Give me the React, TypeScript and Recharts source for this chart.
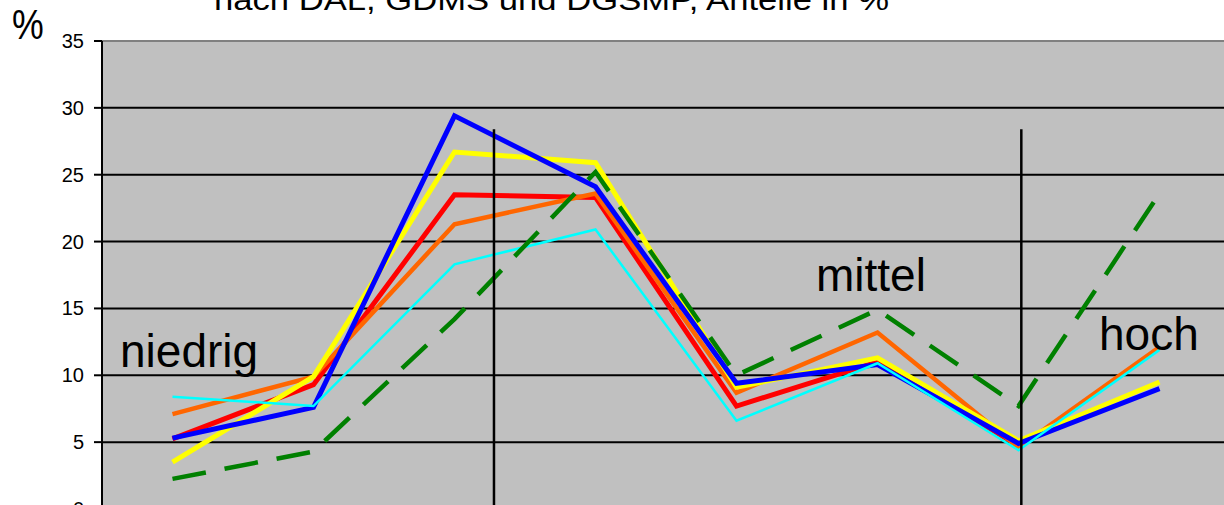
import React from "react";
import { LineChart, Line, XAxis, YAxis, CartesianGrid, ReferenceLine } from "recharts";

// category positions (1..8), grouped as niedrig / mittel / hoch
const positions = [1, 2, 3, 4, 5, 6, 7, 8];

const blueValues = [5.3, 7.6, 29.4, 24.1, 9.4, 10.8, 4.9, 9.0];
const yellowValues = [3.5, 9.9, 26.7, 25.9, 9.1, 11.3, 5.1, 9.5];
const redValues = [5.25, 9.3, 23.5, 23.3, 7.7, 11.0, 4.75, null];
const orangeValues = [7.1, 9.9, 21.3, 23.6, 8.7, 13.2, 4.6, 12.1];
const cyanValues = [8.4, 7.7, 18.3, 20.9, 6.6, 10.9, 4.4, 11.9];
const greenValues = [2.25, 4.3, 14.2, 25.2, 10.0, 14.9, 7.7, 23.6];

const yTicks = [0, 5, 10, 15, 20, 25, 30, 35];

// vertical divider lines (position on the category scale, top value)
const dividerX = [3.28, 7.02];
const dividerTop = 28.4;

const data = positions.map((x, i) => ({
  x,
  blue: blueValues[i],
  yellow: yellowValues[i],
  red: redValues[i],
  orange: orangeValues[i],
  cyan: cyanValues[i],
  green: greenValues[i],
}));

const FONT = "'Liberation Sans', Arial, sans-serif";

function YTick(props: any) {
  const { x, y, payload } = props;
  return (
    <text
      x={x}
      y={y}
      dy={7}
      textAnchor="end"
      fontFamily={FONT}
      fontSize={20}
      fill="#000"
    >
      {payload.value}
    </text>
  );
}

export default function App() {
  return (
    <div
      style={{
        position: "absolute",
        left: 0,
        top: 0,
        width: 1224,
        height: 505,
        overflow: "hidden",
        background: "#fff",
      }}
    >
      <LineChart
        width={1240}
        height={516}
        data={data}
        margin={{ top: 41, right: 10, left: 0, bottom: 7 }}
      >
        <CartesianGrid
          vertical={false}
          stroke="#000"
          strokeWidth={2}
          fill="#C0C0C0"
          fillOpacity={1}
        />
        <XAxis type="number" dataKey="x" domain={[0.5, 8.5]} hide />
        <YAxis
          width={102}
          domain={[0, 35]}
          ticks={yTicks}
          interval={0}
          tick={<YTick />}
          tickSize={8}
          tickMargin={10}
          axisLine={{ stroke: "#000", strokeWidth: 2 }}
          tickLine={{ stroke: "#000", strokeWidth: 2 }}
        />
        <ReferenceLine y={35} stroke="#808080" strokeWidth={2} />
        <Line dataKey="red" stroke="#FF0000" strokeWidth={5} dot={false} isAnimationActive={false} />
        <Line dataKey="orange" stroke="#FF6600" strokeWidth={4.5} dot={false} isAnimationActive={false} />
        <Line dataKey="yellow" stroke="#FFFF00" strokeWidth={5} dot={false} isAnimationActive={false} />
        <Line dataKey="blue" stroke="#0000FF" strokeWidth={5} dot={false} isAnimationActive={false} />
        <Line dataKey="cyan" stroke="#00FFFF" strokeWidth={2.5} dot={false} isAnimationActive={false} />
        <Line
          dataKey="green"
          stroke="#008000"
          strokeWidth={4.5}
          strokeDasharray="34 19"
          dot={false}
          isAnimationActive={false}
        />
        {dividerX.map((dx) => (
          <ReferenceLine
            key={dx}
            segment={[
              { x: dx, y: 0 },
              { x: dx, y: dividerTop },
            ]}
            stroke="#000"
            strokeWidth={2.5}
          />
        ))}
      </LineChart>
      <svg
        width={1224}
        height={505}
        style={{ position: "absolute", left: 0, top: 0, pointerEvents: "none" }}
      >
        <text
          x={214}
          y={10}
          fontFamily={FONT}
          fontSize={30}
          textLength={675}
          lengthAdjust="spacingAndGlyphs"
          fill="#000"
        >
          nach DAL, GDMS und DGSMP, Anteile in %
        </text>
        <text
          transform="translate(12,39) scale(0.85,1)"
          fontFamily={FONT}
          fontSize={42}
          fill="#000"
        >
          %
        </text>
        <text x={120} y={367} fontFamily={FONT} fontSize={46} fill="#000">
          niedrig
        </text>
        <text x={816} y={291} fontFamily={FONT} fontSize={46} fill="#000">
          mittel
        </text>
        <text x={1099} y={350} fontFamily={FONT} fontSize={46} fill="#000">
          hoch
        </text>
      </svg>
    </div>
  );
}
